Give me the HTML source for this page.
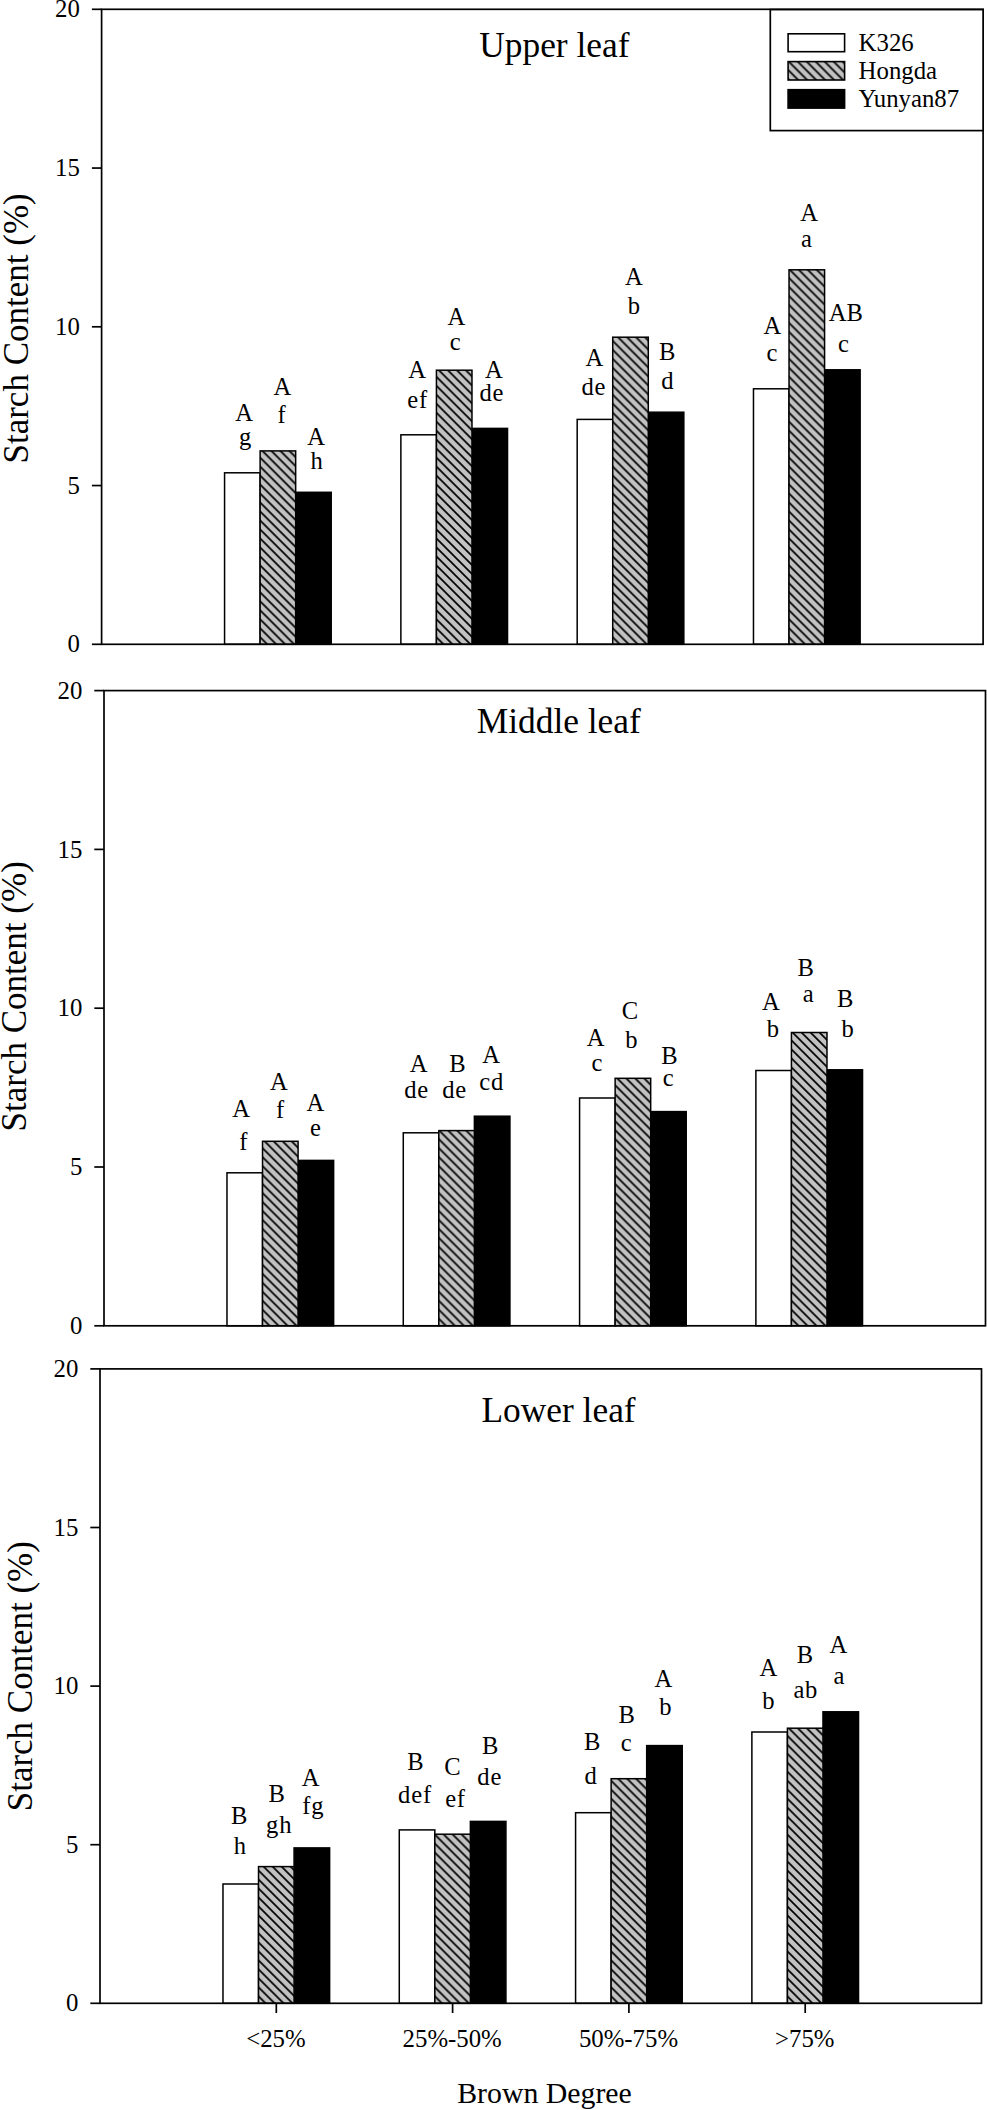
<!DOCTYPE html>
<html lang="en"><head><meta charset="utf-8"><title>Starch Content by Brown Degree</title>
<style>html,body{margin:0;padding:0;background:#fff}svg{display:block}text{font-family:"Liberation Serif","Times New Roman",serif;fill:#000}</style></head><body>
<svg width="987" height="2110" viewBox="0 0 987 2110">
<defs><pattern id="hatch" patternUnits="userSpaceOnUse" x="0" y="1.5" width="8.98" height="8.98"><rect x="0" y="0" width="8.98" height="8.98" fill="#c2c2c2"/><path d="M-8.98 -8.98L17.96 17.96M0 -8.98L17.96 8.98M-8.98 0L8.98 17.96" stroke="#000" stroke-width="1.7" fill="none"/></pattern></defs>
<rect x="0" y="0" width="987" height="2110" fill="#fff"/>
<g id="panel1">
<rect x="224.57" y="472.80" width="35.55" height="171.50" fill="#fff" stroke="#000" stroke-width="1.5"/>
<rect x="295.67" y="492.30" width="35.55" height="152.00" fill="#000" stroke="#000" stroke-width="1.5"/>
<g transform="translate(295.67 644.30)"><rect x="-35.55" y="-193.40" width="35.55" height="193.40" fill="url(#hatch)" stroke="#000" stroke-width="1.5"/></g>
<rect x="400.88" y="434.80" width="35.55" height="209.50" fill="#fff" stroke="#000" stroke-width="1.5"/>
<rect x="471.98" y="428.40" width="35.55" height="215.90" fill="#000" stroke="#000" stroke-width="1.5"/>
<g transform="translate(471.98 644.30)"><rect x="-35.55" y="-274.10" width="35.55" height="274.10" fill="url(#hatch)" stroke="#000" stroke-width="1.5"/></g>
<rect x="577.18" y="419.40" width="35.55" height="224.90" fill="#fff" stroke="#000" stroke-width="1.5"/>
<rect x="648.28" y="412.20" width="35.55" height="232.10" fill="#000" stroke="#000" stroke-width="1.5"/>
<g transform="translate(648.28 644.30)"><rect x="-35.55" y="-307.10" width="35.55" height="307.10" fill="url(#hatch)" stroke="#000" stroke-width="1.5"/></g>
<rect x="753.48" y="388.80" width="35.55" height="255.50" fill="#fff" stroke="#000" stroke-width="1.5"/>
<rect x="824.58" y="369.80" width="35.55" height="274.50" fill="#000" stroke="#000" stroke-width="1.5"/>
<g transform="translate(824.58 644.30)"><rect x="-35.55" y="-374.50" width="35.55" height="374.50" fill="url(#hatch)" stroke="#000" stroke-width="1.5"/></g>
<rect x="101.6" y="9.3" width="881.5" height="635.00" fill="none" stroke="#000" stroke-width="1.7"/>
<line x1="91.90" y1="644.30" x2="101.6" y2="644.30" stroke="#000" stroke-width="1.7"/>
<text x="79.90" y="652.40" font-size="24.8" text-anchor="end">0</text>
<line x1="91.90" y1="485.55" x2="101.6" y2="485.55" stroke="#000" stroke-width="1.7"/>
<text x="79.90" y="493.65" font-size="24.8" text-anchor="end">5</text>
<line x1="91.90" y1="326.80" x2="101.6" y2="326.80" stroke="#000" stroke-width="1.7"/>
<text x="79.90" y="334.90" font-size="24.8" text-anchor="end">10</text>
<line x1="91.90" y1="168.05" x2="101.6" y2="168.05" stroke="#000" stroke-width="1.7"/>
<text x="79.90" y="176.15" font-size="24.8" text-anchor="end">15</text>
<line x1="91.90" y1="9.30" x2="101.6" y2="9.30" stroke="#000" stroke-width="1.7"/>
<text x="79.90" y="17.40" font-size="24.8" text-anchor="end">20</text>
<text transform="translate(27.60 328.40) rotate(-90)" font-size="35" text-anchor="middle">Starch Content (%)</text>
<text x="479.20" y="57.0" font-size="35.4">Upper leaf</text>
</g>
<g id="panel2">
<rect x="226.98" y="1172.80" width="35.55" height="153.00" fill="#fff" stroke="#000" stroke-width="1.5"/>
<rect x="298.08" y="1160.40" width="35.55" height="165.40" fill="#000" stroke="#000" stroke-width="1.5"/>
<g transform="translate(298.08 1325.80)"><rect x="-35.55" y="-184.50" width="35.55" height="184.50" fill="url(#hatch)" stroke="#000" stroke-width="1.5"/></g>
<rect x="403.28" y="1132.80" width="35.55" height="193.00" fill="#fff" stroke="#000" stroke-width="1.5"/>
<rect x="474.38" y="1116.20" width="35.55" height="209.60" fill="#000" stroke="#000" stroke-width="1.5"/>
<g transform="translate(474.38 1325.80)"><rect x="-35.55" y="-195.20" width="35.55" height="195.20" fill="url(#hatch)" stroke="#000" stroke-width="1.5"/></g>
<rect x="579.58" y="1098.00" width="35.55" height="227.80" fill="#fff" stroke="#000" stroke-width="1.5"/>
<rect x="650.68" y="1111.60" width="35.55" height="214.20" fill="#000" stroke="#000" stroke-width="1.5"/>
<g transform="translate(650.68 1325.80)"><rect x="-35.55" y="-247.50" width="35.55" height="247.50" fill="url(#hatch)" stroke="#000" stroke-width="1.5"/></g>
<rect x="755.88" y="1070.50" width="35.55" height="255.30" fill="#fff" stroke="#000" stroke-width="1.5"/>
<rect x="826.98" y="1069.80" width="35.55" height="256.00" fill="#000" stroke="#000" stroke-width="1.5"/>
<g transform="translate(826.98 1325.80)"><rect x="-35.55" y="-293.30" width="35.55" height="293.30" fill="url(#hatch)" stroke="#000" stroke-width="1.5"/></g>
<rect x="104.0" y="690.6" width="881.5" height="635.20" fill="none" stroke="#000" stroke-width="1.7"/>
<line x1="94.30" y1="1325.80" x2="104.0" y2="1325.80" stroke="#000" stroke-width="1.7"/>
<text x="82.30" y="1333.90" font-size="24.8" text-anchor="end">0</text>
<line x1="94.30" y1="1167.00" x2="104.0" y2="1167.00" stroke="#000" stroke-width="1.7"/>
<text x="82.30" y="1175.10" font-size="24.8" text-anchor="end">5</text>
<line x1="94.30" y1="1008.20" x2="104.0" y2="1008.20" stroke="#000" stroke-width="1.7"/>
<text x="82.30" y="1016.30" font-size="24.8" text-anchor="end">10</text>
<line x1="94.30" y1="849.40" x2="104.0" y2="849.40" stroke="#000" stroke-width="1.7"/>
<text x="82.30" y="857.50" font-size="24.8" text-anchor="end">15</text>
<line x1="94.30" y1="690.60" x2="104.0" y2="690.60" stroke="#000" stroke-width="1.7"/>
<text x="82.30" y="698.70" font-size="24.8" text-anchor="end">20</text>
<text transform="translate(25.50 996.30) rotate(-90)" font-size="35" text-anchor="middle">Starch Content (%)</text>
<text x="476.70" y="733.0" font-size="35.4">Middle leaf</text>
</g>
<g id="panel3">
<rect x="222.98" y="1884.00" width="35.55" height="119.30" fill="#fff" stroke="#000" stroke-width="1.5"/>
<rect x="294.08" y="1847.90" width="35.55" height="155.40" fill="#000" stroke="#000" stroke-width="1.5"/>
<g transform="translate(294.08 2003.30)"><rect x="-35.55" y="-136.70" width="35.55" height="136.70" fill="url(#hatch)" stroke="#000" stroke-width="1.5"/></g>
<rect x="399.28" y="1829.90" width="35.55" height="173.40" fill="#fff" stroke="#000" stroke-width="1.5"/>
<rect x="470.38" y="1821.40" width="35.55" height="181.90" fill="#000" stroke="#000" stroke-width="1.5"/>
<g transform="translate(470.38 2003.30)"><rect x="-35.55" y="-169.10" width="35.55" height="169.10" fill="url(#hatch)" stroke="#000" stroke-width="1.5"/></g>
<rect x="575.58" y="1812.70" width="35.55" height="190.60" fill="#fff" stroke="#000" stroke-width="1.5"/>
<rect x="646.68" y="1745.60" width="35.55" height="257.70" fill="#000" stroke="#000" stroke-width="1.5"/>
<g transform="translate(646.68 2003.30)"><rect x="-35.55" y="-224.60" width="35.55" height="224.60" fill="url(#hatch)" stroke="#000" stroke-width="1.5"/></g>
<rect x="751.88" y="1732.00" width="35.55" height="271.30" fill="#fff" stroke="#000" stroke-width="1.5"/>
<rect x="822.98" y="1711.80" width="35.55" height="291.50" fill="#000" stroke="#000" stroke-width="1.5"/>
<g transform="translate(822.98 2003.30)"><rect x="-35.55" y="-275.10" width="35.55" height="275.10" fill="url(#hatch)" stroke="#000" stroke-width="1.5"/></g>
<rect x="100.0" y="1368.9" width="881.5" height="634.40" fill="none" stroke="#000" stroke-width="1.7"/>
<line x1="90.30" y1="2003.30" x2="100.0" y2="2003.30" stroke="#000" stroke-width="1.7"/>
<text x="78.30" y="2011.40" font-size="24.8" text-anchor="end">0</text>
<line x1="90.30" y1="1844.70" x2="100.0" y2="1844.70" stroke="#000" stroke-width="1.7"/>
<text x="78.30" y="1852.80" font-size="24.8" text-anchor="end">5</text>
<line x1="90.30" y1="1686.10" x2="100.0" y2="1686.10" stroke="#000" stroke-width="1.7"/>
<text x="78.30" y="1694.20" font-size="24.8" text-anchor="end">10</text>
<line x1="90.30" y1="1527.50" x2="100.0" y2="1527.50" stroke="#000" stroke-width="1.7"/>
<text x="78.30" y="1535.60" font-size="24.8" text-anchor="end">15</text>
<line x1="90.30" y1="1368.90" x2="100.0" y2="1368.90" stroke="#000" stroke-width="1.7"/>
<text x="78.30" y="1377.00" font-size="24.8" text-anchor="end">20</text>
<text transform="translate(31.80 1676.20) rotate(-90)" font-size="35" text-anchor="middle">Starch Content (%)</text>
<text x="481.40" y="1422.2" font-size="35.4">Lower leaf</text>
</g>
<line x1="276.30" y1="2003.3" x2="276.30" y2="2013.00" stroke="#000" stroke-width="1.7"/>
<text x="275.90" y="2046.8" font-size="24.8" text-anchor="middle">&lt;25%</text>
<line x1="452.60" y1="2003.3" x2="452.60" y2="2013.00" stroke="#000" stroke-width="1.7"/>
<text x="452.20" y="2046.8" font-size="24.8" text-anchor="middle">25%-50%</text>
<line x1="628.90" y1="2003.3" x2="628.90" y2="2013.00" stroke="#000" stroke-width="1.7"/>
<text x="628.50" y="2046.8" font-size="24.8" text-anchor="middle">50%-75%</text>
<line x1="805.20" y1="2003.3" x2="805.20" y2="2013.00" stroke="#000" stroke-width="1.7"/>
<text x="804.80" y="2046.8" font-size="24.8" text-anchor="middle">&gt;75%</text>
<text x="544.5" y="2103.0" font-size="29.8" text-anchor="middle">Brown Degree</text>
<g id="sig" font-size="24.6" text-anchor="middle">
<text x="244.2" y="421.3">A</text>
<text x="245.1" y="444.8">g</text>
<text x="282.5" y="394.8">A</text>
<text x="281.5" y="423.2">f</text>
<text x="316.2" y="444.5">A</text>
<text x="316.7" y="469.3">h</text>
<text x="417.1" y="378.4">A</text>
<text x="417.7" y="407.8" letter-spacing="0.8">ef</text>
<text x="456.4" y="324.8">A</text>
<text x="455.2" y="349.9">c</text>
<text x="493.9" y="377.6">A</text>
<text x="491.79999999999995" y="401.0" letter-spacing="0.8">de</text>
<text x="594.4" y="366.4">A</text>
<text x="593.8" y="394.5" letter-spacing="0.8">de</text>
<text x="633.9" y="285.1">A</text>
<text x="633.9" y="314.0">b</text>
<text x="667.3" y="359.5">B</text>
<text x="667.4" y="388.9">d</text>
<text x="772.3" y="333.7">A</text>
<text x="771.9" y="361.1">c</text>
<text x="809.2" y="220.9">A</text>
<text x="806.5" y="247.4">a</text>
<text x="845.9" y="321.1">AB</text>
<text x="843.4" y="351.6">c</text>
<text x="241.2" y="1117.2">A</text>
<text x="243.3" y="1150.4">f</text>
<text x="279.0" y="1089.5">A</text>
<text x="280.2" y="1118.4">f</text>
<text x="315.5" y="1110.6">A</text>
<text x="315.4" y="1136.3">e</text>
<text x="418.7" y="1072.1">A</text>
<text x="416.59999999999997" y="1098.0" letter-spacing="0.8">de</text>
<text x="457.5" y="1072.2">B</text>
<text x="454.59999999999997" y="1098.0" letter-spacing="0.8">de</text>
<text x="491.2" y="1063.0">A</text>
<text x="491.59999999999997" y="1090.2" letter-spacing="0.8">cd</text>
<text x="595.6" y="1045.7">A</text>
<text x="596.9" y="1070.8">c</text>
<text x="629.9" y="1019.0">C</text>
<text x="631.5" y="1047.8">b</text>
<text x="669.4" y="1063.7">B</text>
<text x="668.2" y="1086.4">c</text>
<text x="770.9" y="1009.5">A</text>
<text x="773.0" y="1037.4">b</text>
<text x="805.8" y="976.2">B</text>
<text x="808.1" y="1001.7">a</text>
<text x="845.1" y="1006.7">B</text>
<text x="847.7" y="1037.4">b</text>
<text x="239.2" y="1823.5">B</text>
<text x="239.8" y="1853.8">h</text>
<text x="276.8" y="1801.8">B</text>
<text x="279.2" y="1832.9" letter-spacing="0.8">gh</text>
<text x="310.7" y="1785.5">A</text>
<text x="313.4" y="1813.8" letter-spacing="0.8">fg</text>
<text x="415.5" y="1769.9">B</text>
<text x="415.0" y="1803.1" letter-spacing="0.8">def</text>
<text x="452.4" y="1775.0">C</text>
<text x="455.5" y="1806.5" letter-spacing="0.8">ef</text>
<text x="490.1" y="1754.0">B</text>
<text x="489.7" y="1785.0" letter-spacing="0.8">de</text>
<text x="592.1" y="1749.7">B</text>
<text x="590.7" y="1784.1">d</text>
<text x="626.7" y="1722.8">B</text>
<text x="626.2" y="1751.0">c</text>
<text x="663.3" y="1686.6">A</text>
<text x="665.5" y="1715.2">b</text>
<text x="768.5" y="1676.4">A</text>
<text x="768.3" y="1708.9">b</text>
<text x="804.9" y="1662.5">B</text>
<text x="805.8" y="1697.7" letter-spacing="0.8">ab</text>
<text x="838.3" y="1652.6">A</text>
<text x="839.0" y="1683.5">a</text>
</g>
<g id="legend">
<rect x="770.3" y="9.6" width="212.80" height="121.00" fill="#fff" stroke="#000" stroke-width="1.7"/>
<rect x="788.1" y="33.8" width="56.5" height="17.90" fill="#fff" stroke="#000" stroke-width="1.6"/>
<text x="858.6" y="51.1" font-size="24.8">K326</text>
<g transform="translate(844.6 80.0)"><rect x="-56.5" y="-18.40" width="56.5" height="18.40" fill="url(#hatch)" stroke="#000" stroke-width="1.6"/></g>
<text x="858.6" y="79.3" font-size="24.8">Hongda</text>
<rect x="788.1" y="89.7" width="56.5" height="18.40" fill="#000" stroke="#000" stroke-width="1.6"/>
<text x="858.6" y="107.0" font-size="24.8">Yunyan87</text>
</g>
</svg></body></html>
